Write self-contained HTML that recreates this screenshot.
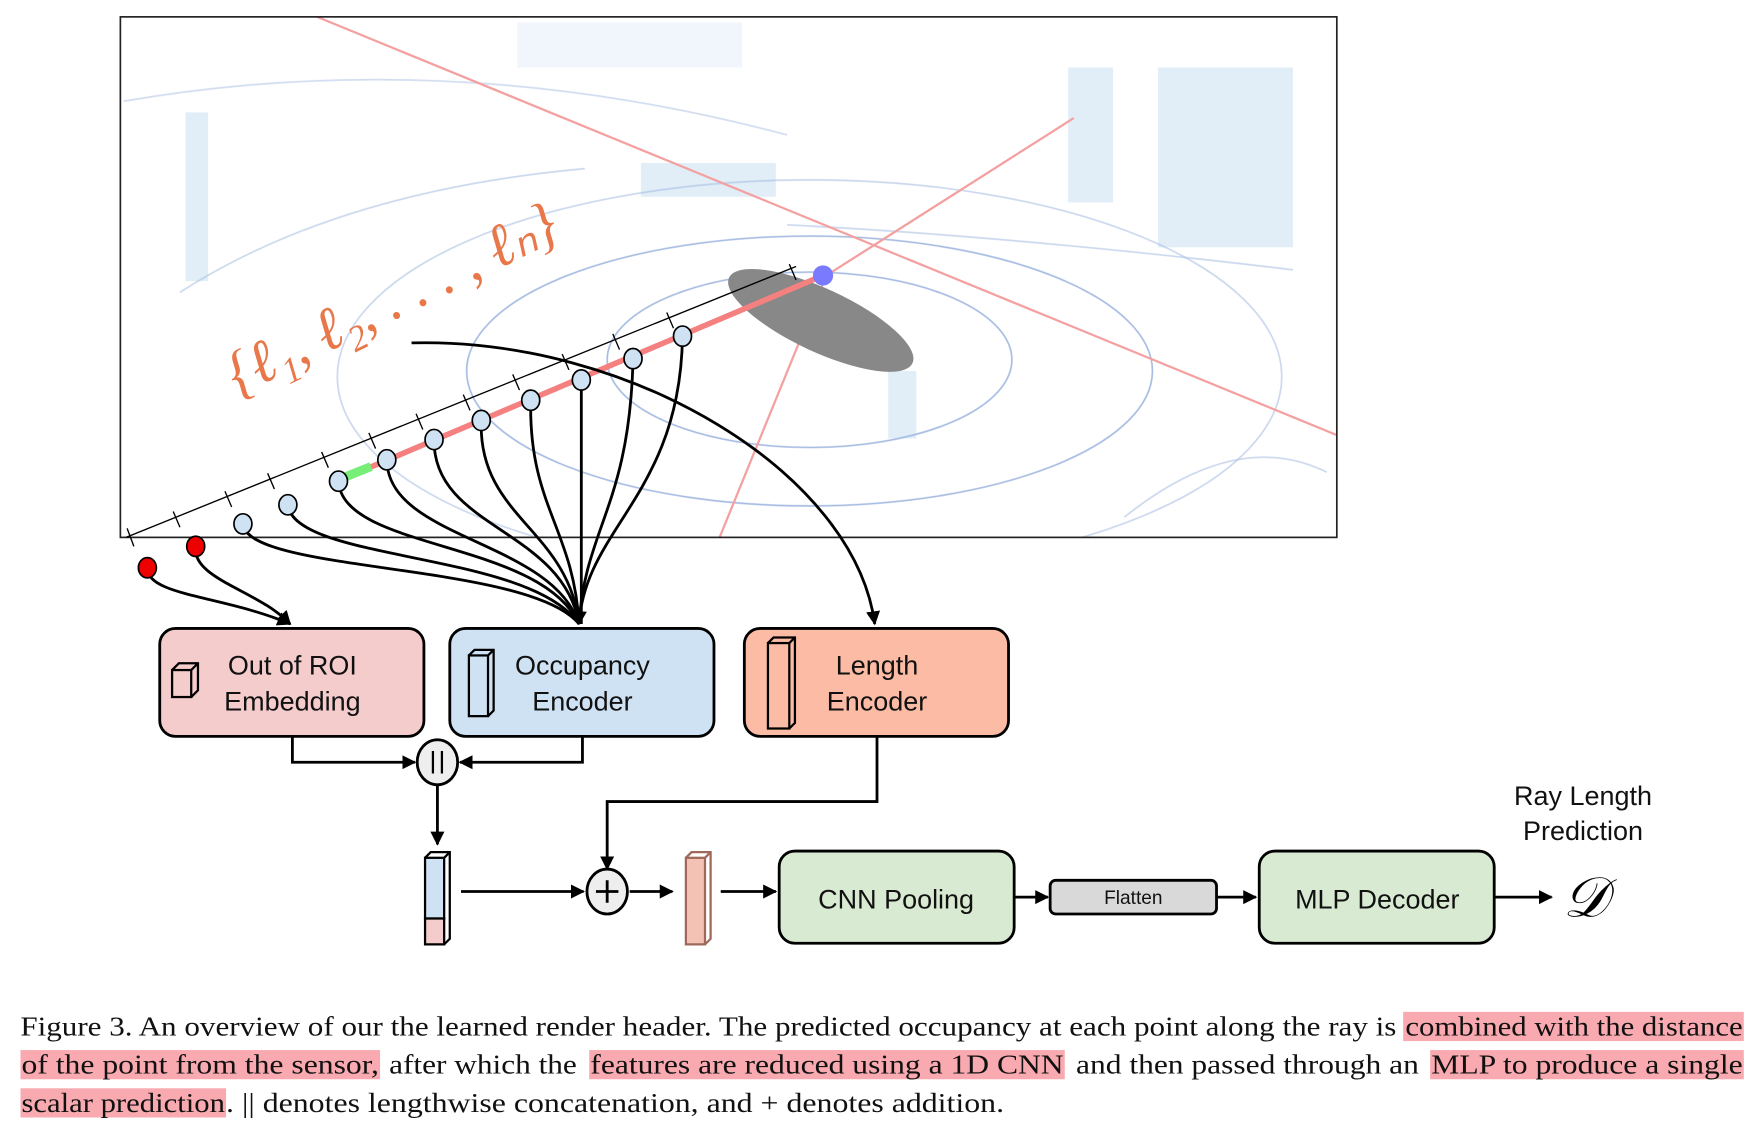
<!DOCTYPE html>
<html><head><meta charset="utf-8"><style>html,body{margin:0;padding:0;background:#fff}svg{display:block}</style></head>
<body>
<svg width="1754" height="1122" viewBox="0 0 1560 998" xmlns="http://www.w3.org/2000/svg">
<defs>
<marker id="a" viewBox="0 0 10 10" refX="9" refY="5" markerWidth="5" markerHeight="5" orient="auto"><path d="M0,0L10,5L0,10z" fill="#000"/></marker>
<clipPath id="c"><rect x="107" y="15" width="1082" height="463"/></clipPath>
</defs>
<!-- photo -->
<rect x="107" y="15" width="1082" height="463" fill="#fff"/>
<g clip-path="url(#c)">
<g fill="none" stroke="#8aa6d8" stroke-width="1.5" opacity="0.75">
<ellipse cx="720" cy="330" rx="305" ry="120"/>
<ellipse cx="720" cy="320" rx="180" ry="78"/>
<ellipse cx="720" cy="335" rx="420" ry="175" opacity="0.6"/>
<path d="M110 90 Q400 40 700 120" opacity="0.5"/>
<path d="M160 260 Q300 170 520 150" opacity="0.6"/>
<path d="M700 200 Q900 210 1150 240" opacity="0.6"/>
<path d="M1000 460 Q1100 380 1180 420" opacity="0.6"/>
</g>
<g fill="#9cc4e4" opacity="0.3">
<rect x="1030" y="60" width="120" height="160"/>
<rect x="950" y="60" width="40" height="120"/>
<rect x="165" y="100" width="20" height="150"/>
<rect x="570" y="145" width="120" height="30"/>
<rect x="460" y="20" width="200" height="40" opacity="0.5"/>
<rect x="790" y="330" width="25" height="60"/>
</g>
<g stroke="#f4a0a0" stroke-width="2" fill="none">
<line x1="282" y1="15" x2="1189" y2="387"/>
<line x1="955" y1="105" x2="735" y2="245"/>
<line x1="735" y1="245" x2="640" y2="478"/>
</g>
<ellipse cx="730" cy="285" rx="90" ry="28" transform="rotate(25 730 285)" fill="#888"/>
<line x1="300" y1="428" x2="732" y2="245" stroke="#f58080" stroke-width="5"/>
<line x1="305" y1="425" x2="330" y2="415" stroke="#77ee77" stroke-width="8"/>
<circle cx="732" cy="245" r="9" fill="#7a7aff"/>
</g>
<rect x="107" y="15" width="1082" height="463" fill="none" stroke="#222" stroke-width="1.5"/>
<!-- ruler -->
<line x1="112" y1="478" x2="708" y2="237" stroke="#000" stroke-width="1.2"/>
<g stroke="#000" stroke-width="1.2">
<line x1="113" y1="470" x2="119" y2="486"/><line x1="154" y1="455" x2="160" y2="469"/>
<line x1="200" y1="437" x2="206" y2="451"/><line x1="238" y1="421" x2="244" y2="435"/>
<line x1="286" y1="402" x2="292" y2="416"/><line x1="328" y1="385" x2="334" y2="399"/>
<line x1="370" y1="368" x2="376" y2="382"/><line x1="412" y1="351" x2="418" y2="365"/>
<line x1="456" y1="333" x2="462" y2="347"/><line x1="500" y1="315" x2="506" y2="329"/>
<line x1="545" y1="297" x2="551" y2="311"/><line x1="593" y1="278" x2="599" y2="292"/>
<line x1="702" y1="235" x2="708" y2="249"/>
</g>
<text x="0" y="0" transform="translate(212 352) rotate(-26)" font-family="Liberation Serif, serif" font-style="italic" font-size="54" fill="#e8784a" textLength="320" lengthAdjust="spacingAndGlyphs">{ℓ₁, ℓ₂, . . . , ℓₙ}</text>
<!-- curves -->
<g fill="none" stroke="#000" stroke-width="2.5">
<path d="M131 505 C130 530 200 530 258 555" marker-end="url(#a)"/>
<path d="M174 486 C170 515 230 525 258 555" marker-end="url(#a)"/>
<path d="M216 466 C220 510 470 500 515 555"/>
<path d="M256 449 C262 500 470 490 515 555"/>
<path d="M301 428 C305 490 480 480 515 555"/>
<path d="M344 409 C345 480 490 480 515 555"/>
<path d="M386 391 C385 470 500 470 515 555"/>
<path d="M428 374 C425 460 505 470 515 555"/>
<path d="M472 356 C470 450 510 470 515 555"/>
<path d="M517 338 L517 555"/>
<path d="M563 319 C560 450 520 470 515 555"/>
<path d="M607 299 C605 440 520 470 515 555" marker-end="url(#a)"/>
<path d="M366 305 C560 300 760 420 778 555" marker-end="url(#a)"/>
</g>
<g stroke="#000" stroke-width="1.5" fill="#cfe2f3">
<ellipse cx="216" cy="466" rx="8" ry="9"/><ellipse cx="256" cy="449" rx="8" ry="9"/>
<ellipse cx="301" cy="428" rx="8" ry="9"/><ellipse cx="344" cy="409" rx="8" ry="9"/>
<ellipse cx="386" cy="391" rx="8" ry="9"/><ellipse cx="428" cy="374" rx="8" ry="9"/>
<ellipse cx="472" cy="356" rx="8" ry="9"/><ellipse cx="517" cy="338" rx="8" ry="9"/>
<ellipse cx="563" cy="319" rx="8" ry="9"/><ellipse cx="607" cy="299" rx="8" ry="9"/>
<ellipse cx="131" cy="505" rx="8" ry="9" fill="#e00"/><ellipse cx="174" cy="486" rx="8" ry="9" fill="#e00"/>
</g>
<!-- boxes -->
<g stroke="#000" stroke-width="2.5">
<rect x="142" y="559" width="235" height="96" rx="14" fill="#f4cccc"/>
<rect x="400" y="559" width="235" height="96" rx="14" fill="#cfe2f3"/>
<rect x="662" y="559" width="235" height="96" rx="14" fill="#fcbba4"/>
<rect x="693" y="757" width="209" height="82" rx="14" fill="#d9ead3"/>
<rect x="934" y="783" width="148" height="30" rx="5" fill="#d9d9d9"/>
<rect x="1120" y="757" width="209" height="82" rx="14" fill="#d9ead3"/>
</g>
<g stroke="#000" stroke-width="2" fill="none">
<rect x="153" y="596" width="17" height="24"/><path d="M153 596l6-6h17v24l-6 6M170 596l6-6"/>
<rect x="417" y="583" width="17" height="54" fill="#cfe2f3"/><path d="M417 583l5-5h17v54l-5 5M434 583l5-5"/>
<rect x="683" y="572" width="19" height="76" fill="#fcbba4"/><path d="M683 572l5-5h19v76l-5 5M702 572l5-5"/>
</g>
<g font-family="Liberation Sans, sans-serif" font-size="24" text-anchor="middle" fill="#111">
<text x="260" y="600">Out of ROI</text><text x="260" y="632">Embedding</text>
<text x="518" y="600">Occupancy</text><text x="518" y="632">Encoder</text>
<text x="780" y="600">Length</text><text x="780" y="632">Encoder</text>
<text x="797" y="808">CNN Pooling</text>
<text x="1225" y="808">MLP Decoder</text>
<text x="1008" y="804" font-size="17">Flatten</text>
<text x="1408" y="716">Ray Length</text><text x="1408" y="747">Prediction</text>
</g>
<text x="1410" y="815" font-family="Liberation Serif, serif" font-style="italic" font-size="50" text-anchor="middle">𝒟</text>
<!-- connectors -->
<g stroke="#000" stroke-width="2.5" fill="none">
<path d="M260 655V678H369" marker-end="url(#a)"/>
<path d="M518 655V678H409" marker-end="url(#a)"/>
<path d="M389 697V751" marker-end="url(#a)"/>
<path d="M780 655V713H540V773" marker-end="url(#a)"/>
<path d="M410 793H519" marker-end="url(#a)"/>
<path d="M560 793H598" marker-end="url(#a)"/>
<path d="M641 793H690" marker-end="url(#a)"/>
<path d="M903 798H932" marker-end="url(#a)"/>
<path d="M1083 798H1117" marker-end="url(#a)"/>
<path d="M1330 798H1380" marker-end="url(#a)"/>
</g>
<ellipse cx="389" cy="678" rx="18" ry="20" fill="#eee" stroke="#000" stroke-width="2.5"/>
<path d="M385 668v20M393 668v20" stroke="#000" stroke-width="2"/>
<ellipse cx="540" cy="793" rx="18" ry="20" fill="#eee" stroke="#000" stroke-width="2.5"/>
<path d="M540 783v20M530 793h20" stroke="#000" stroke-width="2.5"/>
<g stroke="#000" stroke-width="2">
<rect x="378" y="763" width="17" height="54" fill="#cfe2f3"/><rect x="378" y="817" width="17" height="23" fill="#f4cccc"/>
<path d="M378 763l5-5h17v77l-5 5M395 763l5-5" fill="none"/>
</g>
<g stroke="#a0685a" stroke-width="2">
<rect x="610" y="763" width="17" height="77" fill="#f4c2b4"/>
<path d="M610 763l5-5h17v77l-5 5M627 763l5-5" fill="none"/>
</g>
<!-- caption -->
<g fill="#f9aab0">
<rect x="1248" y="900" width="303" height="26"/>
<rect x="18" y="934" width="320" height="26"/>
<rect x="524" y="934" width="423" height="26"/>
<rect x="1272" y="934" width="279" height="26"/>
<rect x="18" y="968" width="183" height="26"/>
</g>
<g font-family="Liberation Serif, serif" font-size="24.5" fill="#111">
<text x="18" y="921" textLength="1224" lengthAdjust="spacingAndGlyphs">Figure 3. An overview of our the learned render header. The predicted occupancy at each point along the ray is</text>
<text x="1250" y="921" textLength="300" lengthAdjust="spacingAndGlyphs">combined with the distance</text>
<text x="19" y="955" textLength="318" lengthAdjust="spacingAndGlyphs">of the point from the sensor,</text>
<text x="346" y="955" textLength="167" lengthAdjust="spacingAndGlyphs">after which the</text>
<text x="525" y="955" textLength="421" lengthAdjust="spacingAndGlyphs">features are reduced using a 1D CNN</text>
<text x="957" y="955" textLength="305" lengthAdjust="spacingAndGlyphs">and then passed through an</text>
<text x="1273" y="955" textLength="277" lengthAdjust="spacingAndGlyphs">MLP to produce a single</text>
<text x="19" y="989" textLength="181" lengthAdjust="spacingAndGlyphs">scalar prediction</text>
<text x="201" y="989" textLength="692" lengthAdjust="spacingAndGlyphs">. || denotes lengthwise concatenation, and + denotes addition.</text>
</g>
</svg>
</body></html>
